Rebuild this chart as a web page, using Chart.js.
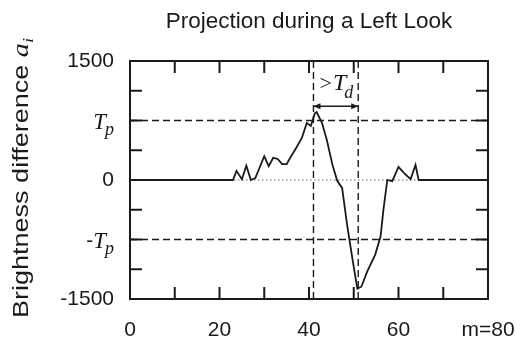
<!DOCTYPE html>
<html><head><meta charset="utf-8">
<script src="https://cdn.jsdelivr.net/npm/chart.js@4/dist/chart.umd.min.js"></script>
<style>html,body{margin:0;padding:0;background:#fff}</style>
</head><body>
<canvas id="c" width="516" height="340" style="width:516px;height:340px"></canvas>
<script>
// ---- data ----
const titleText = 'Projection during a Left Look';
const yTitleText = 'Brightness difference ';
const yTitleVar = 'a';
const yTitleSub = 'i';
const mValues = [0, 23, 23.8, 25, 26, 27, 28, 30, 31, 32, 33, 34, 35, 36, 37, 38.4, 39.5, 40.4, 41.3, 41.7, 42.9, 44, 45.2, 46.3, 47.4, 48.5, 49.7, 50.8, 51.7, 53, 54.8, 56, 56.6, 57.5, 58.6, 60, 61.2, 62.7, 63.8, 64.5, 80];
const aValues = [0, 0, 115, 10, 180, 0, 25, 300, 175, 280, 265, 200, 200, 300, 390, 530, 720, 680, 840, 855, 720, 500, 200, -10, -100, -560, -990, -1370, -1345, -1155, -940, -710, -390, 0, -15, 165, 90, 10, 190, 0, 0];
const xLabelValues = [0, 20, 40, 60, 80];
const xTickLabels = ['0', '20', '40', '60', 'm=80'];
const xMinorTicks = [10, 20, 30, 40, 50, 60, 70];
const yLabelValues = [-1500, 0, 1500];
const yTickLabels = ['-1500', '0', '1500'];
const yMinorTicks = [-1125, -750, -375, 375, 750, 1125];
const Tp = 750;
const gateStart = 41, gateEnd = 51;
const gateArrowY = 930;
const gateLabelY = 1135;

const ink = '#1a1a1a';
const sans = '"Liberation Sans", Arial, sans-serif';
const serif = '"Liberation Serif", "Times New Roman", serif';

const lineDs = (pts, extra) => Object.assign({
  data: pts, showLine: true, pointRadius: 0, borderColor: ink, borderWidth: 1.4, fill: false
}, extra);

const decor = {
  id: 'decor',
  afterDatasetsDraw(chart) {
    const ctx = chart.ctx, x = chart.scales.x, y = chart.scales.y, a = chart.chartArea;
    ctx.save();
    // frame
    ctx.strokeStyle = ink; ctx.lineWidth = 2;
    ctx.strokeRect(a.left, a.top, a.right - a.left, a.bottom - a.top);
    // inward ticks
    ctx.lineWidth = 2;
    const tl = 12;
    ctx.beginPath();
    xMinorTicks.forEach(v => {
      const px = x.getPixelForValue(v);
      ctx.moveTo(px, a.bottom); ctx.lineTo(px, a.bottom - tl);
      ctx.moveTo(px, a.top); ctx.lineTo(px, a.top + tl);
    });
    yMinorTicks.forEach(v => {
      const py = y.getPixelForValue(v);
      ctx.moveTo(a.left, py); ctx.lineTo(a.left + tl, py);
      ctx.moveTo(a.right, py); ctx.lineTo(a.right - tl, py);
    });
    ctx.stroke();

    // Tp labels
    ctx.fillStyle = ink; ctx.textBaseline = 'alphabetic';
    const rightEdge = a.left - 15;
    [[Tp, ''], [-Tp, '-']].forEach(([v, pre]) => {
      const py = y.getPixelForValue(v);
      ctx.font = 'italic 23px ' + serif; const wT = ctx.measureText('T').width;
      ctx.font = 'italic 18px ' + serif; const wp = ctx.measureText('p').width;
      ctx.font = '21px ' + sans; const wm = ctx.measureText(pre).width;
      let sx = rightEdge - wT - wp - wm;
      ctx.font = '21px ' + sans; ctx.fillText(pre, sx, py + 7); sx += wm;
      ctx.font = 'italic 23px ' + serif; ctx.fillText('T', sx, py + 8); sx += wT - 1;
      ctx.font = 'italic 18px ' + serif; ctx.fillText('p', sx, py + 14);
    });

    // y axis title (stretched along its length like the reference)
    ctx.save();
    ctx.translate(28, 178);
    ctx.rotate(-Math.PI / 2);
    ctx.font = '22px ' + sans; const w1 = ctx.measureText(yTitleText).width;
    ctx.font = 'italic 23px ' + serif; const w2 = ctx.measureText(yTitleVar).width;
    ctx.font = 'italic 15px ' + serif; const w3 = ctx.measureText(yTitleSub).width;
    const total = w1 + w2 + w3;
    const stretch = 280 / total;
    ctx.scale(stretch, 1);
    let tx = -total / 2;
    ctx.font = '22px ' + sans; ctx.fillText(yTitleText, tx, 0); tx += w1;
    ctx.font = 'italic 23px ' + serif; ctx.fillText(yTitleVar, tx, 0); tx += w2;
    ctx.font = 'italic 15px ' + serif; ctx.fillText(yTitleSub, tx, 5);
    ctx.restore();

    // gate arrow
    const gx1 = x.getPixelForValue(gateStart), gx2 = x.getPixelForValue(gateEnd);
    const gy = y.getPixelForValue(gateArrowY);
    ctx.lineWidth = 1.5; ctx.strokeStyle = ink;
    ctx.beginPath(); ctx.moveTo(gx1, gy); ctx.lineTo(gx2, gy); ctx.stroke();
    ctx.beginPath();
    ctx.moveTo(gx1, gy); ctx.lineTo(gx1 + 7, gy - 3); ctx.lineTo(gx1 + 7, gy + 3); ctx.closePath();
    ctx.moveTo(gx2, gy); ctx.lineTo(gx2 - 7, gy - 3); ctx.lineTo(gx2 - 7, gy + 3); ctx.closePath();
    ctx.fill();
    // >Td label
    const ly = y.getPixelForValue(gateLabelY);
    ctx.font = '22px ' + serif; const wg = ctx.measureText('>').width;
    ctx.font = 'italic 24px ' + serif; const wT2 = ctx.measureText('T').width;
    ctx.font = 'italic 18px ' + serif; const wd = ctx.measureText('d').width;
    let lx = (gx1 + gx2) / 2 - (wg + wT2 + wd) / 2 + 1;
    ctx.font = '22px ' + serif; ctx.fillText('>', lx, ly); lx += wg + 1;
    ctx.font = 'italic 24px ' + serif; ctx.fillText('T', lx, ly); lx += wT2 - 2;
    ctx.font = 'italic 18px ' + serif; ctx.fillText('d', lx, ly + 8);
    ctx.restore();
  }
};

new Chart(document.getElementById('c'), {
  type: 'scatter',
  data: {
    datasets: [
      lineDs(mValues.map((m, i) => ({ x: m, y: aValues[i] })), { borderWidth: 1.8, order: 0 }),
      lineDs([{ x: 0, y: 0 }, { x: 80, y: 0 }], { borderDash: [1.5, 2.5], borderColor: '#666', borderWidth: 1, order: 5 }),
      lineDs([{ x: 0, y: Tp }, { x: 80, y: Tp }], { borderDash: [7, 4], order: 4 }),
      lineDs([{ x: 0, y: -Tp }, { x: 80, y: -Tp }], { borderDash: [7, 4], order: 4 }),
      lineDs([{ x: gateStart, y: -1500 }, { x: gateStart, y: 1500 }], { borderDash: [7, 4], order: 4 }),
      lineDs([{ x: gateEnd, y: -1500 }, { x: gateEnd, y: 1500 }], { borderDash: [7, 4], order: 4 })
    ]
  },
  options: {
    animation: false, responsive: false, devicePixelRatio: 1,
    layout: { padding: { left: 0, right: 28, top: 0, bottom: 0 } },
    plugins: {
      legend: { display: false }, tooltip: { enabled: false },
      title: {
        display: true, text: titleText, fullSize: false, color: ink,
        font: { family: sans, size: 22.5, weight: 'normal' },
        padding: { top: 8, bottom: 26 }
      }
    },
    scales: {
      x: {
        type: 'linear', min: 0, max: 80,
        grid: { display: false, drawTicks: false }, border: { display: false },
        afterBuildTicks: s => { s.ticks = xLabelValues.map(v => ({ value: v })); },
        afterFit: s => { s.height = 41; s.paddingLeft = 0; s.paddingRight = 0; },
        ticks: { callback: (v, i) => xTickLabels[i], autoSkip: false, maxRotation: 0, padding: 19,
                 color: ink, font: { family: sans, size: 21 } }
      },
      y: {
        type: 'linear', min: -1500, max: 1500,
        grid: { display: false, drawTicks: false }, border: { display: false },
        afterBuildTicks: s => { s.ticks = yLabelValues.map(v => ({ value: v })); },
        afterFit: s => { s.width = 130; s.paddingTop = 0; s.paddingBottom = 0; },
        ticks: { callback: (v, i) => yTickLabels[i], autoSkip: false, padding: 16,
                 color: ink, font: { family: sans, size: 21 } }
      }
    }
  },
  plugins: [decor]
});
</script>
</body></html>
